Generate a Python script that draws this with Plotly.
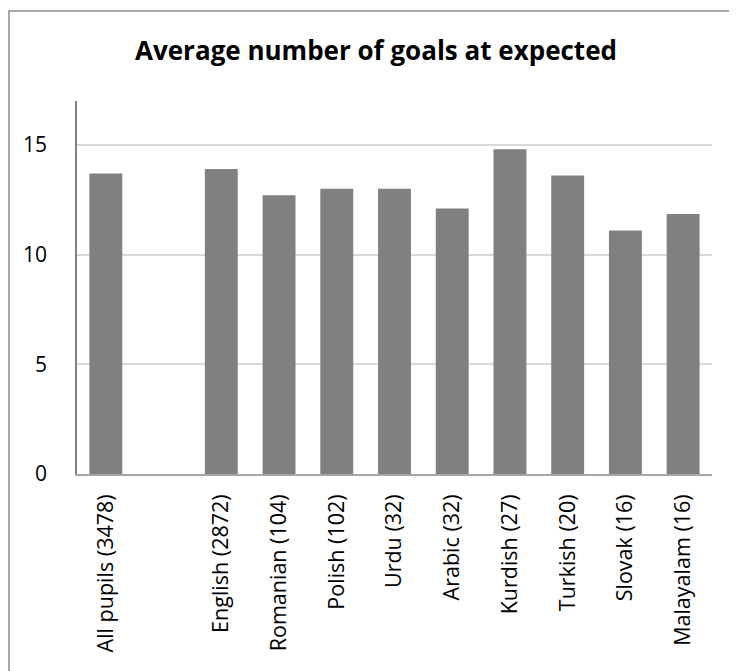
import plotly.graph_objects as go

categories = ["All pupils (3478)", " ", "English (2872)", "Romanian (104)", "Polish (102)",
              "Urdu (32)", "Arabic (32)", "Kurdish (27)", "Turkish (20)", "Slovak (16)", "Malayalam (16)"]
values = [13.7, None, 13.9, 12.7, 13.0, 13.0, 12.1, 14.8, 13.6, 11.1, 11.85]

OFF = 8  # page body margin
W, H = 737 - OFF, 671 - OFF
L, T = 77 - OFF, 101 - OFF
pw, ph = 712 - 77, 474 - 101
R, B = W - L - pw, H - T - ph


def px(xw):
    """window x -> paper x"""
    return (xw - OFF - L) / pw


def py(yw):
    """window y -> paper y"""
    return (T + ph - (yw - OFF)) / ph


fig = go.Figure(go.Bar(x=categories, y=values, marker=dict(color="#808080", line=dict(width=0)),
                       hoverinfo="x+y"))

fig.update_layout(
    width=W, height=H,
    margin=dict(l=L, r=R, t=T, b=B),
    paper_bgcolor="white", plot_bgcolor="white",
    font=dict(family="Open Sans", color="#000000"),
    bargap=0.43,
    showlegend=False,
    title=dict(text="<b>Average number of goals at expected</b>", x=px(376), xref="paper",
               xanchor="center", y=1 - (51 - OFF) / H, yanchor="middle",
               font=dict(size=26, color="#000000")),
    xaxis=dict(tickangle=-90, tickfont=dict(size=21.5), showgrid=False,
               showline=True, linecolor="#a6a6a6", linewidth=1.5, ticks="",
               ticklabelstandoff=10),
    yaxis=dict(range=[0, 17], tickvals=[0, 5, 10, 15], tickfont=dict(size=21),
               showgrid=True, gridcolor="#d9d9d9", gridwidth=1.5,
               showline=True, linecolor="#7f7f7f", linewidth=1.5, ticks="",
               zeroline=False, ticklabelstandoff=24),
    shapes=[dict(type="rect", xref="paper", yref="paper",
                 x0=px(9), x1=px(760), y0=py(700), y1=py(11),
                 line=dict(color="#8c8c8c", width=1.5), fillcolor="rgba(0,0,0,0)", layer="below")],
)

fig.write_html("out.html")
